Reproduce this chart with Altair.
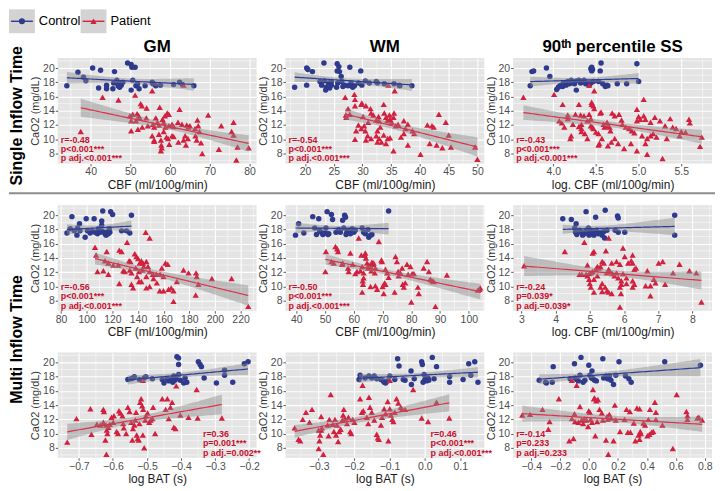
import altair as alt
import pandas as pd
import numpy as np

BLUE, RED, BLUE_LINE, RED_LINE, TXT_RED = "#2E3A8C", "#D2213E", "#2B3C9B", "#E0304A", "#C8102E"
FONT = "Liberation Sans"

GM1_CTRL=[(34,17.5),(36.8,19.4),(38.2,18.7),(38.8,18.2),(40.5,20),(42.5,19.7),(42,17.2),(44,17.6),(44,17.1),(46,19.5),(45.8,17.9),(46.6,18.3),(46.9,17.5),(47.3,17.3),(47.7,17.6),(48.1,18),(49.3,20.7),(50.2,20.5),(50.4,20.1),(51.2,20.1),(50.6,18.3),(50.2,16.9),(51.4,17.5),(52.2,17.1),(51.8,17.8),(53.7,17.5),(55.5,18),(55.7,17.8),(56.4,17.5),(57.6,17.6),(60.9,17.7),(62.4,18),(63.1,17.7),(66,17.5),(45.6,17.1),(47.1,17.9)]
GM1_PAT=[(37.5,11.1),(43,15.9),(47,15.5),(51.2,16.2),(55.5,16.8),(63.4,17.6),(52.6,15),(52.9,14.7),(54.1,14.4),(57.4,14.5),(62.4,14.2),(49.9,13.3),(50.6,13.5),(51.7,13.6),(52.1,13.3),(52.3,13),(51.4,12.6),(50.2,12.6),(54,13),(54.4,11.9),(53,11.7),(51.9,11.4),(50.2,11.2),(56.4,13),(56.8,12.4),(57.2,12),(58.1,12.8),(58.7,13.3),(59.3,13.7),(59.7,13.5),(58.4,12.4),(55.7,12.1),(56,11.7),(58.8,11.7),(59.7,11.9),(60.5,12.1),(60.9,11.8),(62,12.4),(63,12.1),(64.2,12),(64.6,11.7),(65,11.9),(66.9,12.7),(67.1,11.9),(66.3,11.5),(69.6,13.4),(72.9,11.9),(76,12.4),(75.5,11.1),(76,10.6),(55.5,10.5),(56,9.9),(57.2,10.7),(57.7,9.9),(58.4,11.1),(59.1,10.3),(59.5,10.1),(60.5,10.5),(60.9,10.4),(62.1,9.6),(63.4,9.9),(63.8,10.5),(64.5,10.1),(66.4,10.5),(66.7,9.9),(67.4,11.1),(67.8,9.5),(56,9.7),(59.8,9.3),(57.8,9.2),(57.9,8.8),(57.7,8.4),(64,9.2),(68.1,8),(72.3,8.6),(77,8.9),(76.7,7.1),(79.8,8.8)]
WM1_CTRL=[(18.2,17.3),(20.3,20),(20.5,19.8),(20.3,17.6),(21.3,19.5),(22.6,18.1),(22.9,17.6),(23.3,20.7),(23.4,18.2),(23.7,17.3),(23.6,16.9),(24.1,17.9),(24.3,17.2),(24.6,17.6),(24.6,18.1),(25.6,20.6),(25.9,20.2),(25.6,19.6),(26,19.5),(26.3,18.8),(25.7,17.9),(25.5,17.3),(26.4,18.1),(26.6,17.4),(26.9,17.6),(27.5,17.5),(27.8,20.1),(28,17.9),(28.3,17.3),(28.6,17.5),(29.7,19.6),(29.3,17.9),(29.9,17.6),(30.5,18.2),(31.2,17.9),(32.4,18.1),(32.6,17.9),(33.8,17.8),(35.5,17.8),(36.4,17.6),(36.5,17.5),(38.6,17.5)]
WM1_PAT=[(34.5,17.6),(35.6,16.8),(27,15.9),(27.5,14.3),(27.2,13.1),(27.1,13.4),(27.8,13.5),(28.7,14.7),(28.6,16.3),(28.7,15.6),(29.8,14.9),(29.9,15.1),(30.6,14.7),(30.1,13.2),(31,12.4),(31.4,14.3),(31.5,13.7),(31.9,13.4),(32.4,12.7),(32.8,13.2),(32.9,12.6),(33.1,11.7),(32.6,11.2),(33.7,14.9),(33.8,13.7),(34.1,13.1),(34.3,12.6),(34.7,13.4),(34.8,12.8),(35.1,12.4),(35.5,13.7),(35.4,13.1),(35.8,11.9),(36.2,12.1),(37.2,12.6),(37.9,12.1),(37.5,11.5),(30.3,11.9),(29.8,11.5),(28.9,11.2),(29.3,12),(30.5,11.2),(30.9,10.5),(30.6,9.9),(31.5,10.1),(32.4,10.5),(32.6,9.6),(32.9,10.1),(33.3,9.6),(33.7,10.6),(34.1,9.4),(34.4,10.1),(34.8,10.2),(35.4,8.4),(36.7,10.3),(37.2,10.8),(37.9,9.2),(38.7,11.2),(39,10.8),(40.1,7.9),(41.3,12),(42.1,11.9),(42.4,11.7),(41.7,9.4),(42.9,9.2),(43.3,13.5),(44.5,12.4),(45,10.6),(43.9,8.8),(45.4,8.9),(49.6,8.9),(50,7.2),(28.7,10)]
SS1_CTRL=[(3.73,17.5),(3.75,19.5),(3.77,19.6),(3.92,20),(3.96,18.8),(4.04,17),(4.06,17.3),(4.08,17.5),(4.09,17.6),(4.11,17.4),(4.12,17.9),(4.15,17.6),(4.17,18.1),(4.19,17.8),(4.21,18.3),(4.23,17.9),(4.25,17.8),(4.27,18.2),(4.27,16.9),(4.3,18.3),(4.32,17.9),(4.34,18.1),(4.36,18.3),(4.38,17.8),(4.4,17.9),(4.42,17.6),(4.44,19.9),(4.45,20.1),(4.46,19.8),(4.45,19.6),(4.44,17.9),(4.47,18.1),(4.55,19.6),(4.56,20.7),(4.53,18.1),(4.58,17.8),(4.61,17.4),(4.63,17.6),(4.64,17.5),(4.75,17.8),(4.86,17.8),(4.98,20.6),(5,18.1)]
SS1_PAT=[(3.65,15.9),(4.01,16.3),(4.42,17.6),(4.48,16.8),(5.06,15.6),(4.11,14.9),(4.3,14.9),(4.45,15.2),(4.45,14.9),(4.47,14.7),(4.48,14.3),(4.98,14.2),(4.07,12.6),(4.17,13.4),(4.26,13.5),(4.32,13.4),(4.36,13.3),(4.42,13.5),(4.44,12.9),(4.4,12.6),(4.33,12.1),(4.3,11.8),(4.33,11.5),(4.23,12.1),(4.17,12.9),(4.13,11.7),(4.1,12.3),(4.21,10.5),(4.33,11.1),(4.37,10.8),(4.44,11.9),(4.46,11.7),(4.47,11.5),(4.5,11),(4.53,10.8),(4.55,13.7),(4.56,13.8),(4.59,12.1),(4.6,11.7),(4.63,12.4),(4.64,11.9),(4.66,11.7),(4.67,11.2),(4.69,13.7),(4.72,13.3),(4.77,13.5),(4.8,12.7),(4.81,12.1),(4.85,11.7),(4.89,11.5),(4.92,11.2),(4.95,10.9),(4.98,12.6),(5,13.2),(5.02,12.8),(5.06,13.3),(5.08,12.8),(5.14,12.4),(5.19,13.1),(5.25,12.6),(5.31,11.9),(5.37,12.9),(5.4,11.7),(5.44,11.5),(5.5,11.1),(5.59,12.8),(5.6,12.3),(5.74,10.3),(5.72,9),(5.04,10.5),(5.1,10.1),(5.14,10.5),(5.17,10.8),(5.21,10.3),(5.08,9.4),(4.98,8.4),(5.1,7.9),(5.28,7.3),(5.48,10.5),(5.55,11),(5.33,10.1),(4.91,9.4),(4.83,8.7),(4.76,9.4),(4.68,9.6),(4.64,9.1),(4.72,10.1),(4.57,10.1),(4.54,9.4),(4.53,9.2),(4.4,10.1),(4.2,10.1)]
GM2_CTRL=[(84.6,17.5),(88.5,19.8),(92.4,17.2),(92.9,18.2),(94.4,18.8),(94.8,17.8),(98.8,16.9),(99.6,19.5),(100.6,17.8),(102.7,17.5),(104,17.8),(105.8,19.5),(106.5,17.6),(108.4,17.4),(109.1,18.1),(110.4,17.6),(111.7,17.8),(111.7,18.6),(112.5,20.6),(111.7,19.2),(113.5,17.6),(114.3,17.4),(115.1,17.2),(115.6,17.6),(116.9,17.4),(118.1,17.6),(118.7,20.5),(120.2,20.1),(117.6,18.1),(127.2,17.8),(131,17.8),(133.6,17.5),(134.9,20),(87.2,18.1),(90.3,17.8)]
GM2_PAT=[(106.5,15.5),(107.3,14.4),(115.6,14.9),(125.4,15.1),(127.2,14.9),(131.5,16.2),(146,17.6),(149.1,16.8),(108.4,12.1),(113,12.2),(116.9,11.7),(114.3,13.6),(116.9,13.3),(120.7,13),(124.6,13),(125.4,10.4),(128.5,12.2),(129.7,12.1),(133.1,13.6),(134.1,13.5),(133.6,12.3),(134.9,11.9),(134.9,10.3),(137.5,14.6),(138.8,14.2),(140.1,13.9),(141.3,13.3),(142.6,13.6),(143.9,13.3),(144.4,12.8),(143.4,12.3),(138.2,12.6),(140.8,12.1),(139.3,11.4),(140.8,10.7),(146.5,13.5),(147.8,12.8),(149.1,12.1),(146.5,11.4),(151.6,11.7),(152.1,11.1),(154.2,11.7),(154.7,10.5),(149.1,10),(146.5,9.8),(142.6,10.7),(161.4,13.3),(163.2,13.1),(158.6,12.6),(157.3,11.7),(159.9,11.4),(157,9.4),(159.9,9.4),(163.8,9.6),(165.9,9.8),(167.7,9.4),(170.3,10.7),(175.5,12.3),(179.4,11.9),(185.3,11.9),(185.8,11.4),(187.1,10.3),(197.6,11.1),(213,11.1),(167.7,7.9),(185,8.8),(226,7.2),(136.2,9.8)]
WM2_CTRL=[(39.7,17.2),(40.8,18.8),(42.6,17.5),(45.7,19.8),(46.4,18.2),(47,17.3),(47.8,19.5),(48.1,17.9),(48.7,17.6),(49.2,17.3),(49.5,17.4),(50.1,17.5),(50.3,18.2),(50.7,20.5),(51,17.3),(51.3,17.4),(52.2,20.1),(52.6,19.4),(53.8,17.6),(54.7,18),(55.3,17.6),(56.1,19.3),(56.5,18.2),(56.8,20),(57.1,19.7),(57.3,17.3),(57.6,17.6),(58.2,17.9),(58.8,17.4),(59.4,18.1),(60,17.6),(60.5,17.9),(62.9,18.2),(63.4,17.6),(64,17.4),(64.9,18),(65.2,16.9),(65.8,17.2),(66.3,17.3),(72.1,20.6)]
WM2_PAT=[(50.3,14.9),(50.1,12.1),(52.2,13.5),(53,13.3),(53.6,15.6),(54.2,15.3),(54.5,14.9),(55.9,13.1),(58,12.6),(58.2,12.1),(58.8,14.7),(59.6,13.1),(60.5,11.8),(61.1,12.1),(61.7,16.8),(62.3,12.2),(62.6,14.4),(62.9,12.8),(63.4,11.9),(63.8,14.4),(64,14.7),(64.2,14),(64.6,13.3),(63.4,11.2),(63.1,10.8),(63.2,10.3),(62.9,9.2),(64.9,12.6),(65.2,13),(65.8,12.8),(66.1,12.2),(66.3,13.4),(66.6,13.1),(66.9,13.3),(67.3,11.9),(67.5,12.6),(65.8,10),(67.5,10.1),(68.1,9.6),(68.7,16.3),(69.6,13.7),(69.8,13.5),(70,10),(70.4,9),(70.7,10.5),(71,10.3),(71,12.4),(71.6,11.9),(72.1,11.3),(74.2,9.2),(74.5,14.2),(75,13.5),(75.4,12.1),(75.6,11.5),(76.2,11.9),(76.8,12.6),(77,10.3),(77.4,9.9),(77.9,10.5),(78.5,13.1),(78.9,11.7),(79.7,12.8),(80.3,11.8),(80.9,11.8),(80,7.8),(82.3,9.9),(82.6,9),(84.3,12.6),(85.5,13.5),(86.1,12.1),(86.6,11),(87.2,10.8),(87.8,10.7),(88.4,7.2),(92.4,11.6),(103.2,9.5),(103.7,9.6),(104,9.8),(56.1,13.3)]
SS2_CTRL=[(4.21,19.5),(4.46,19.4),(4.6,18.8),(4.56,18.2),(4.58,17.6),(4.62,17.3),(4.7,17.9),(4.75,17.6),(4.79,17.2),(4.84,17.4),(4.89,20.5),(4.89,17.9),(4.93,17.5),(4.96,18.2),(4.98,17.2),(5.03,17.9),(5.06,17.4),(5.09,17.6),(5.12,17.2),(5.17,19.7),(5.19,17.9),(5.25,17.4),(5.31,17.6),(5.36,17.2),(5.41,17.7),(5.43,16.8),(5.45,20.7),(5.5,17.9),(5.74,17.9),(5.81,19.9),(5.83,19.6),(5.83,17.6),(6.02,17.6),(7.48,20),(7.48,17.2)]
SS2_PAT=[(3.08,12.9),(4.27,14.9),(4.84,16.2),(5.55,16.8),(5.08,14.7),(5.12,14.9),(5.47,15),(5.97,15.4),(6.02,14.2),(6.25,14.4),(6.21,13.6),(5.36,13.5),(5.41,13.3),(5.64,13.3),(5.78,13.5),(5.88,13.1),(6.12,13.3),(6.25,13.3),(6.3,12.4),(6.35,12.6),(4.93,13),(5.03,11.9),(5.08,12.1),(5.17,12.4),(5.22,12.8),(5.26,12.6),(5.31,12.8),(4.7,11.7),(4.77,11.7),(4.89,11.7),(4.93,11.5),(4.98,11.8),(5.12,11),(5.22,11.5),(5.5,11.9),(5.55,12.4),(5.59,12.1),(5.66,11.8),(5.72,11.5),(5.78,11.9),(5.83,11.2),(5.92,10.8),(5.97,11.8),(6.07,11.2),(6.25,10.8),(6.3,10.3),(6.68,12.2),(6.87,11),(6.92,10.5),(7.01,13.3),(7.13,13.5),(7.2,10.3),(7.43,11.9),(7.62,13.1),(7.91,12.2),(8.11,11.9),(8.26,7.8),(4.98,11),(5,10.4),(5.03,9.9),(5.12,9.2),(5.36,10.4),(5.45,9.9),(5.5,9.4),(5.55,9.2),(5.64,9),(5.88,9.9),(5.91,9),(5.92,10.3),(6.07,10.4),(6.25,9.9),(6.63,10.1),(6.77,10.1),(6.77,8.7),(5.88,7.1),(5.31,9.9),(5.36,9.3)]
GM3_CTRL=[(-.556,17.6),(-.546,17.7),(-.541,17.8),(-.537,18),(-.522,17.6),(-.508,17.8),(-.503,18),(-.455,17.6),(-.45,17.1),(-.44,17.7),(-.436,17.4),(-.431,17.5),(-.426,17.7),(-.424,17.2),(-.421,18.1),(-.418,17.5),(-.414,17.7),(-.412,20.8),(-.407,20.6),(-.407,19.7),(-.407,18.3),(-.402,17.5),(-.392,17.1),(-.388,17.8),(-.383,17.2),(-.349,20.1),(-.344,19.7),(-.34,19.4),(-.332,17.8),(-.296,17.1),(-.272,18.9),(-.272,18.2),(-.248,17.2),(-.214,19.8),(-.203,20.1),(-.484,17.7)]
GM3_PAT=[(-.734,8.8),(-.707,12.1),(-.666,13.5),(-.663,9.9),(-.628,13.4),(-.626,13.1),(-.628,11.6),(-.622,9.1),(-.619,7.1),(-.618,10.5),(-.616,10),(-.613,10.9),(-.609,11.3),(-.604,12.3),(-.597,12.5),(-.589,10.3),(-.585,10),(-.582,13.2),(-.578,12.9),(-.572,12.5),(-.57,11.4),(-.568,10.8),(-.561,10),(-.556,13.7),(-.551,13.1),(-.546,11.6),(-.543,9.1),(-.541,10.7),(-.537,11.2),(-.534,11.9),(-.532,13),(-.53,9.8),(-.527,9.3),(-.524,9.1),(-.522,11.4),(-.52,14.4),(-.517,14.9),(-.514,13.9),(-.512,9.8),(-.511,13.4),(-.508,8),(-.505,11.9),(-.503,12.5),(-.498,12.9),(-.493,11.6),(-.489,11.9),(-.484,12.1),(-.482,13.7),(-.476,10),(-.455,14.9),(-.445,13.4),(-.44,14.9),(-.436,12.1),(-.431,13.7),(-.426,14.4),(-.421,10.9),(-.416,10.7),(-.414,16.7),(-.402,12.6),(-.378,12.3),(-.354,16.2),(-.351,12.2),(-.28,12.2),(-.647,11.3),(-.637,11.2),(-.62,11.2),(-.599,11.6),(-.512,17.5)]
WM3_CTRL=[(-.186,17.6),(-.183,18.2),(-.169,17.8),(-.158,18.1),(-.15,17.8),(-.143,18.1),(-.136,17.7),(-.124,17.6),(-.117,17.4),(-.115,17.2),(-.111,17.1),(-.105,17.4),(-.099,18.1),(-.085,17.6),(-.077,20.5),(-.073,19.5),(-.061,17.6),(-.056,17.5),(-.039,18.8),(-.038,16.9),(-.03,17.7),(-.009,20.1),(-.007,19.7),(-.005,17.2),(-.002,18.3),(0,17.6),(.005,17.4),(.009,17.8),(.011,17.5),(.021,20.7),(.026,17.7),(.033,19.4),(.07,18),(.07,17.2),(.108,17.6),(.124,19.8),(.13,18.2),(.141,20.1),(.15,17.2)]
WM3_PAT=[(-.368,10.8),(-.357,9.2),(-.352,9),(-.345,12),(-.336,13),(-.326,11.6),(-.319,13.4),(-.3,10.5),(-.298,9),(-.3,7.9),(-.296,9.8),(-.293,10.5),(-.291,10.8),(-.287,7.1),(-.293,12.4),(-.275,11.2),(-.272,9.7),(-.27,12),(-.266,15.5),(-.26,11.3),(-.257,10.3),(-.254,12),(-.251,9.8),(-.248,11.2),(-.245,8.9),(-.242,10.3),(-.238,10.6),(-.233,11.9),(-.231,12.6),(-.229,13.4),(-.226,12.1),(-.22,11.4),(-.216,12.3),(-.211,10.3),(-.208,10),(-.204,12),(-.199,11.6),(-.183,14.9),(-.178,13),(-.176,16.8),(-.174,13.2),(-.164,12.3),(-.16,11.4),(-.158,15.1),(-.155,13.7),(-.15,13),(-.143,11.9),(-.136,9.9),(-.133,9.4),(-.13,9.2),(-.124,11.2),(-.121,12.3),(-.115,13.5),(-.111,12.8),(-.105,14.5),(-.103,9),(-.099,13.5),(-.096,12.6),(-.092,12),(-.089,11.7),(-.085,13),(-.08,14.9),(-.075,14.3),(-.068,13.7),(-.064,13.4),(-.056,13.4),(-.033,16.2),(-.009,12.2),(.009,11.7),(.033,14.4),(.069,12.2),(-.099,17.5)]
SS3_CTRL=[(-.345,17.5),(-.3,17.2),(-.295,17.1),(-.255,17.2),(-.248,19.4),(-.131,17.7),(-.101,19.8),(-.097,17.8),(-.086,17.6),(-.074,17.4),(-.063,18.2),(-.056,20.7),(-.041,17.2),(-.029,17.5),(-.002,19.6),(.005,18.2),(.016,17.8),(.02,18.8),(.027,17.7),(.038,17.5),(.05,17.4),(.095,20.5),(.101,17.8),(.117,18.1),(.128,17.7),(.14,18.1),(.151,17.5),(.169,16.9),(.185,18.2),(.207,20.1),(.252,18.1),(.275,17.7),(.291,17.2),(.523,20.1),(.77,19.6)]
SS3_PAT=[(-.462,12.6),(-.408,12.7),(-.322,13.4),(-.282,10.6),(-.273,11.7),(-.209,14.9),(-.137,9),(-.119,12.1),(-.108,9.3),(-.101,12.8),(-.097,11.7),(-.086,16.8),(-.074,11.6),(-.063,13.8),(-.052,11.9),(-.041,11.4),(-.034,12.1),(-.018,11.9),(-.007,11),(-.002,13.2),(.005,13),(.011,12),(.02,11.6),(.027,16.2),(.034,14.9),(.038,15),(.043,9.7),(.05,14.6),(.056,11.7),(.061,14.8),(.072,13.4),(.088,12.9),(.095,11.9),(.117,9.1),(.124,12.4),(.128,12),(.133,7.1),(.14,12.7),(.151,12.2),(.169,9),(.178,14),(.185,11.9),(.214,10.3),(.245,12),(.259,13.4),(.268,10.2),(.282,13.1),(.286,10.2),(.309,11.5),(.32,9),(.331,13.6),(.342,9.8),(.349,13.5),(.349,9.2),(.354,10.3),(.358,10),(.376,11.5),(.387,11.2),(.403,9.7),(.41,12),(.417,9.9),(.421,13.4),(.432,10.2),(.444,10.3),(.455,14.4),(.462,12),(.462,13),(.507,11.2),(.579,7.9),(.606,15.5),(.673,13.1),(.68,12.5),(.68,12),(.748,12.2),(.759,12.3),(.782,11.9),(-.119,17.5)]

STATS = {
 "GM1": "r=-0.48\np<0.001***\np adj.<0.001***", "WM1": "r=-0.54\np<0.001***\np adj.<0.001***",
 "SS1": "r=-0.43\np<0.001***\np adj.<0.001***", "GM2": "r=-0.56\np<0.001***\np adj.<0.001***",
 "WM2": "r=-0.50\np<0.001***\np adj.<0.001***", "SS2": "r=-0.24\np=0.039*\np adj.=0.039*",
 "GM3": "r=0.36\np=0.001***\np adj.=0.002**", "WM3": "r=0.46\np<0.001***\np adj.<0.001***",
 "SS3": "r=-0.14\np=0.233\np adj.=0.233"}
ROW_TITLES = ["Single Inflow Time", "Multi Inflow Time"]
COL_TITLES = ["GM", "WM", "90ᵗʰ percentile SS"]
GROUPS = ["Control", "Patient"]
Y_MAJOR = [8, 10, 12, 14, 16, 18, 20]
Y_MINOR = [7, 9, 11, 13, 15, 17, 19, 21]
Y_DOMAIN = [6.6, 21.4]
W, H, COLGAP, ROWGAP = 200, 106, 29, 42


def make_axis(major, title, fmt=None, is_y=False):
    kw = dict(values=major, title=title, labelOverlap=False, grid=True, gridColor="white", gridWidth=1.1,
              tickColor="#333333", tickSize=2.5, tickWidth=0.8, domain=False,
              labelColor="#4D4D4D", labelFontSize=10.5, labelFont=FONT, labelPadding=1,
              titleFont=FONT, titleFontWeight="normal")
    if fmt:
        kw["format"] = fmt
    if is_y:
        kw.update(titleFontSize=11, titleColor="#333333", titlePadding=2)
    else:
        kw.update(titleFontSize=12, titleColor="#1A1A1A", titlePadding=2)
    return alt.Axis(**kw)


def fit_band(pairs, n=60):
    x = np.array([p[0] for p in pairs], float)
    y = np.array([p[1] for p in pairs], float)
    b, a = np.polyfit(x, y, 1)
    s = np.sqrt(((y - a - b * x) ** 2).sum() / (len(x) - 2))
    xg = np.linspace(x.min(), x.max(), n)
    se = s * np.sqrt(1 / len(x) + (xg - x.mean()) ** 2 / ((x - x.mean()) ** 2).sum())
    yh = a + b * xg
    return pd.DataFrame({"x": xg, "fit": yh, "lo": yh - 2.0 * se, "hi": yh + 2.0 * se})


def one(**kw):
    return alt.Chart(pd.DataFrame({k: [v] for k, v in kw.items()}))


def col_title(text):
    return one(t=text).mark_text(align="center", baseline="alphabetic", fontSize=17, fontWeight="bold",
                                 font=FONT, color="black").encode(x=alt.value(W / 2), y=alt.value(-6), text="t:N")


def row_title(text, yc):
    return one(t=text).mark_text(angle=270, align="center", baseline="middle", fontSize=16,
                                 fontWeight="bold", font=FONT, color="black"
                                 ).encode(x=alt.value(-41), y=alt.value(yc), text="t:N")


def panel(ctrl, pat, xdom, xmaj, xmin, xtitle, stats, right=False, fmt=None, extra=()):
    pts = pd.DataFrame({"x": [p[0] for p in ctrl + pat], "y": [p[1] for p in ctrl + pat],
                        "g": ["Control"] * len(ctrl) + ["Patient"] * len(pat)})
    xs = alt.Scale(domain=xdom, nice=False, zero=False)
    ys = alt.Scale(domain=Y_DOMAIN, nice=False, zero=False)
    xa = make_axis(xmaj, xtitle, fmt)
    ya = make_axis(Y_MAJOR, "CaO2 (mg/dL)", is_y=True)
    X = alt.X("x:Q", scale=xs, axis=xa)
    xminor = [v for v in xmin if xdom[0] < v < xdom[1]]
    yminor = [v for v in Y_MINOR if Y_DOMAIN[0] < v < Y_DOMAIN[1]]
    layers = [
        alt.Chart(pd.DataFrame({"v": xminor})).mark_rule(color="white", strokeWidth=0.5)
        .encode(x=alt.X("v:Q", scale=xs, axis=xa)),
        alt.Chart(pd.DataFrame({"v": yminor})).mark_rule(color="white", strokeWidth=0.5)
        .encode(y=alt.Y("v:Q", scale=ys, axis=ya)),
        alt.Chart(pts).transform_filter("datum.g == 'Control'").mark_circle(size=30, opacity=1, color=BLUE)
        .encode(X, alt.Y("y:Q", scale=ys, axis=ya)),
        alt.Chart(pts).transform_filter("datum.g == 'Patient'")
        .mark_point(shape="triangle-up", filled=True, size=40, opacity=1, color=RED)
        .encode(X, alt.Y("y:Q", scale=ys, axis=ya)),
    ]
    for grp, col in ((ctrl, BLUE_LINE), (pat, RED_LINE)):
        bd = fit_band(grp)
        layers.append(alt.Chart(bd).mark_area(color="#8A8A8A", opacity=0.45)
                      .encode(X, alt.Y("lo:Q", scale=ys, axis=ya), y2="hi:Q"))
        layers.append(alt.Chart(bd).mark_line(color=col, strokeWidth=1.2)
                      .encode(X, alt.Y("fit:Q", scale=ys, axis=ya)))
    layers.append(one(t=stats).mark_text(
        align="left", baseline="top", lineBreak="\n", lineHeight=9.5, fontSize=9,
        fontWeight="bold", color=TXT_RED, font=FONT)
        .encode(x=alt.value(146 if right else 3), y=alt.value(H - 28), text="t:N"))
    layers.extend(extra)
    return alt.layer(*layers).properties(width=W, height=H,
                                         view=alt.ViewBackground(fill="#E4E4E4", stroke=None))


# legend keys, titles and the separating rule are drawn around the first panels
deco1 = [row_title(ROW_TITLES[0], 58), col_title(COL_TITLES[0]),
         one(a=0).mark_rule(color="#8C8C8C", strokeWidth=2).encode(
             x=alt.value(-49), x2=alt.value(3 * W + 2 * COLGAP + 3), y=alt.value(H + 30))]
for g, cx, col, shp in zip(GROUPS, (-36, 36), (BLUE, RED), ("circle", "triangle-up")):
    deco1 += [
        one(g=g).mark_rect(color="#D3D3D3").encode(x=alt.value(cx - 13), x2=alt.value(cx + 13),
                                                  y=alt.value(-49), y2=alt.value(-25)),
        one(g=g).mark_rule(color=col, strokeWidth=1.4).encode(x=alt.value(cx - 11), x2=alt.value(cx + 11),
                                                            y=alt.value(-37)),
        one(g=g).mark_point(shape=shp, filled=True, size=38, opacity=1, color=col).encode(
            x=alt.value(cx), y=alt.value(-37)),
        one(g=g).mark_text(align="left", baseline="middle", fontSize=13, font=FONT, color="black").encode(
            x=alt.value(cx + 17), y=alt.value(-37), text="g:N"),
    ]
deco4 = [row_title(ROW_TITLES[1], H + ROWGAP / 2 + 8)]

CBF, LCBF, BAT = "CBF (ml/100g/min)", "log. CBF (ml/100g/min)", "log BAT (s)"
p1 = panel(GM1_CTRL, GM1_PAT, [31.7, 81.8], [40, 50, 60, 70, 80], [35, 45, 55, 65, 75], CBF, STATS["GM1"], extra=deco1)
p2 = panel(WM1_CTRL, WM1_PAT, [16.6, 51.2], [20, 25, 30, 35, 40, 45, 50], [17.5, 22.5, 27.5, 32.5, 37.5, 42.5, 47.5], CBF, STATS["WM1"], extra=[col_title(COL_TITLES[1])])
p3 = panel(SS1_CTRL, SS1_PAT, [3.53, 5.86], [4.0, 4.5, 5.0, 5.5], [3.75, 4.25, 4.75, 5.25, 5.75], LCBF, STATS["SS1"], fmt=".1f", extra=[col_title(COL_TITLES[2])])
p4 = panel(GM2_CTRL, GM2_PAT, [77.4, 232.5], [80, 100, 120, 140, 160, 180, 200, 220], [90, 110, 130, 150, 170, 190, 210, 230], CBF, STATS["GM2"], extra=deco4)
p5 = panel(WM2_CTRL, WM2_PAT, [36.2, 105.4], [40, 50, 60, 70, 80, 90, 100], [45, 55, 65, 75, 85, 95, 105], CBF, STATS["WM2"])
p6 = panel(SS2_CTRL, SS2_PAT, [2.76, 8.57], [3, 4, 5, 6, 7, 8], [3.5, 4.5, 5.5, 6.5, 7.5, 8.5], LCBF, STATS["SS2"])
p7 = panel(GM3_CTRL, GM3_PAT, [-0.762, -0.178], [-0.7, -0.6, -0.5, -0.4, -0.3, -0.2], [-0.75, -0.65, -0.55, -0.45, -0.35, -0.25], BAT, STATS["GM3"], right=True, fmt=".1f")
p8 = panel(WM3_CTRL, WM3_PAT, [-0.394, 0.168], [-0.3, -0.2, -0.1, 0.0, 0.1], [-0.35, -0.25, -0.15, -0.05, 0.05, 0.15], BAT, STATS["WM3"], right=True, fmt=".1f")
p9 = panel(SS3_CTRL, SS3_PAT, [-0.525, 0.85], [-0.4, -0.2, 0.0, 0.2, 0.4, 0.6, 0.8], [-0.5, -0.3, -0.1, 0.1, 0.3, 0.5, 0.7], BAT, STATS["SS3"], fmt=".1f")

chart = alt.concat(p1, p2, p3, p4, p5, p6, p7, p8, p9, columns=3, bounds="flush",
                   spacing={"row": ROWGAP, "column": COLGAP}
                   ).properties(padding=0).configure_view(stroke=None)
chart.save("out.html", embed_options={"renderer": "svg", "actions": False})
